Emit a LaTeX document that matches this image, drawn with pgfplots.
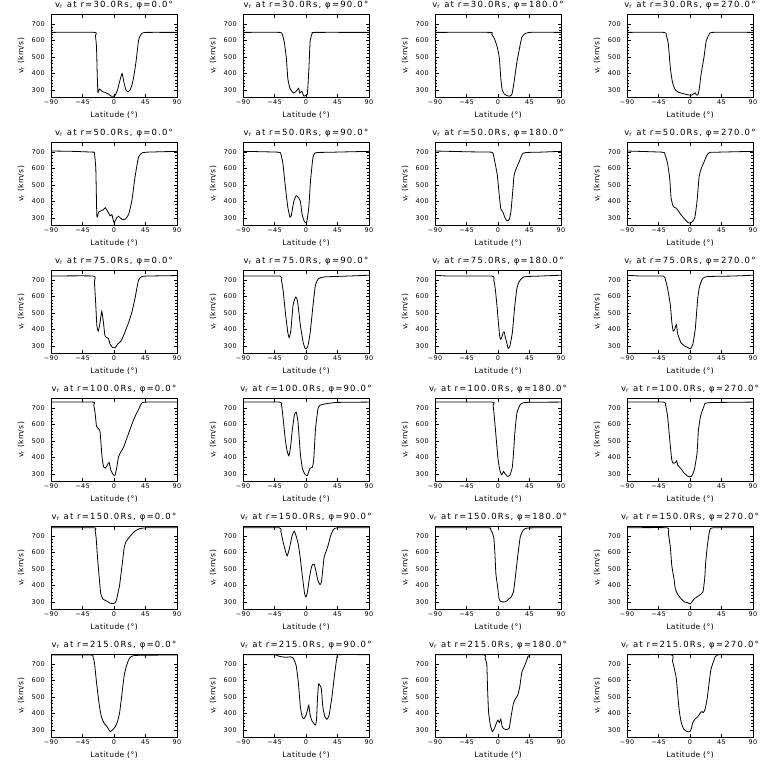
\documentclass[border=0pt]{standalone}
\usepackage{pgfplots}
\pgfplotsset{compat=1.18}
\usepackage{fontspec}
\setmainfont{DejaVu Sans}
\newfontfamily\ttlfont[LetterSpace=14]{DejaVu Sans}
\newfontfamily\lblfont[LetterSpace=6]{DejaVu Sans}
\newfontfamily\tckfont[LetterSpace=5]{DejaVu Sans}
\newcommand\ttl[2]{{\ttlfont\fontsize{8.5}{9}\selectfont v\textsubscript{r} at r=#1Rs, φ=#2°}}
\pgfplotsset{
  crv/.style={black, line width=0.8pt, smooth, tension=0.3, mark=none},
  panel/.style={
    anchor=north west, scale only axis, width=126pt, height=83pt,
    xmin=-90, xmax=90, ymin=255, ymax=760,
    xtick={-90,-45,0,45,90}, xticklabels={−90,−45,0,45,90},
    ytick={300,400,500,600,700}, yticklabels={300,400,500,600,700},
    minor y tick num=4, minor x tick num=0,
    major tick length=3.5pt, minor tick length=1.8pt,
    tick align=inside, tick pos=both,
    axis line style={line width=0.8pt}, every tick/.style={black, line width=0.6pt},
    tick label style={font=\tckfont\fontsize{6.5}{7}\selectfont},
    xticklabel style={anchor=north, inner sep=0pt, yshift=-2.5pt},
    yticklabel style={anchor=east, inner sep=0pt, xshift=-6pt},
    xlabel={Latitude (°)}, ylabel={v\textsubscript{r} (km/s)},
    label style={font=\lblfont\fontsize{7.5}{8}\selectfont},
    x label style={at={(axis description cs:0.5,-0.213)}, anchor=center},
    y label style={at={(axis description cs:-0.238,0.5)}, anchor=center},
    every axis title/.style={at={(axis description cs:0.5,1.108)}, anchor=center, inner sep=0pt},
  }
}
\begin{document}
\begin{tikzpicture}
\useasboundingbox (0,0) rectangle (768pt,-768pt);
% ---------- row 1: r=30
\begin{axis}[panel, at={(51pt,-14.3pt)}, title={\ttl{30.0}{0.0}}]
\addplot[crv] coordinates {(-90,650)(-28,650)(-26.5,630)(-25,560)(-24,400)(-23,285)(-21,305)(-19,300)(-17,290)(-13,285)(-8,275)(-4,262)(0,262)(2,270)(5,300)(8,350)(11.5,400)(14,350)(17,300)(20,288)(23,300)(26,335)(29,400)(32,490)(35,600)(37,625)(40,645)(47,650)(90,650)};
\end{axis}
\begin{axis}[panel, at={(243pt,-14.3pt)}, title={\ttl{30.0}{90.0}}]
\addplot[crv] coordinates {(-90,650)(-38,650)(-34,640)(-31,590)(-28,490)(-26,370)(-23,310)(-18,282)(-14,292)(-10.5,310)(-9,282)(-6,292)(-3,262)(0,268)(2,275)(4,420)(6,600)(9,645)(13,650)(90,650)};
\end{axis}
\begin{axis}[panel, at={(435pt,-14.3pt)}, title={\ttl{30.0}{180.0}}]
\addplot[crv] coordinates {(-90,650)(-12,650)(-9,640)(-5,610)(-1,560)(2,490)(4,370)(6,300)(9,275)(13,265)(17,262)(20,275)(23,350)(27,470)(31,560)(34,620)(38,640)(45,650)(90,650)};
\end{axis}
\begin{axis}[panel, at={(627pt,-14.3pt)}, title={\ttl{30.0}{270.0}}]
\addplot[crv] coordinates {(-90,650)(-37,650)(-34,635)(-31,580)(-28,430)(-25,345)(-21,300)(-16,285)(-10,278)(-3,270)(2,268)(5,275)(7.5,282)(9,270)(11,268)(13,300)(16,400)(20,500)(23,595)(27,635)(32,650)(90,650)};
\end{axis}
% ---------- row 2: r=50
\begin{axis}[panel, at={(51pt,-142.3pt)}, title={\ttl{50.0}{0.0}}]
\addplot[crv] coordinates {(-90,707)(-60,705)(-30,700)(-28,695)(-26,600)(-24.5,312)(-22,335)(-20,340)(-15,350)(-12.5,362)(-9,340)(-5.5,312)(-3,320)(0,272)(4,302)(6.5,310)(11,292)(16,292)(21,322)(25.5,405)(30,548)(35,670)(40,695)(47,700)(90,705)};
\end{axis}
\begin{axis}[panel, at={(243pt,-142.3pt)}, title={\ttl{50.0}{90.0}}]
\addplot[crv] coordinates {(-90,705)(-40,700)(-36,690)(-33,630)(-29.5,490)(-26,365)(-23,305)(-21,315)(-17.5,400)(-14,435)(-11,425)(-8,400)(-5.5,320)(-2,275)(1,275)(4,365)(6.5,530)(10,670)(13,695)(16,698)(40,700)(90,705)};
\end{axis}
\begin{axis}[panel, at={(435pt,-142.3pt)}, title={\ttl{50.0}{180.0}}]
\addplot[crv] coordinates {(-90,707)(-40,702)(-10,700)(-7,690)(-4,630)(-1,560)(2,430)(4,355)(7,335)(10,300)(13,282)(16,290)(18.5,340)(21,460)(23,560)(26,600)(30,640)(35,690)(40,698)(60,700)(90,705)};
\end{axis}
\begin{axis}[panel, at={(627pt,-142.3pt)}, title={\ttl{50.0}{270.0}}]
\addplot[crv] coordinates {(-90,707)(-40,700)(-36,690)(-32,630)(-29,540)(-27,420)(-24,370)(-20,360)(-17,345)(-13,320)(-8,295)(-3,272)(0,268)(4,280)(7,305)(10,400)(13,550)(16,600)(20,640)(24,680)(28,698)(40,700)(90,705)};
\end{axis}
% ---------- row 3: r=75
\begin{axis}[panel, at={(51pt,-270.3pt)}, title={\ttl{75.0}{0.0}}]
\addplot[crv] coordinates {(-90,725)(-29.5,725)(-28,690)(-26,546)(-24.5,423)(-22.5,390)(-20,440)(-17.5,510)(-15,440)(-13,362)(-10,350)(-8,345)(-5.5,310)(-2,290)(1.5,288)(5,310)(10,330)(14.5,372)(21,444)(25.5,505)(30,590)(35,700)(40,722)(47,725)(90,728)};
\end{axis}
\begin{axis}[panel, at={(243pt,-270.3pt)}, title={\ttl{75.0}{90.0}}]
\addplot[crv] coordinates {(-90,725)(-37,725)(-35,700)(-32.5,630)(-29.5,505)(-26,382)(-24,350)(-21.5,400)(-18.5,546)(-15,597)(-12.5,580)(-10,500)(-8,423)(-4,320)(-1,283)(2.5,295)(6,382)(10,546)(13.5,670)(18,710)(27,720)(60,725)(90,730)};
\end{axis}
\begin{axis}[panel, at={(435pt,-270.3pt)}, title={\ttl{75.0}{180.0}}]
\addplot[crv] coordinates {(-90,730)(-70,725)(-9,725)(-6,700)(-4,650)(-1.5,546)(0.5,444)(2.5,355)(4,340)(6,360)(7.5,385)(9,385)(10.5,350)(12.5,320)(14.5,285)(17,300)(20.5,382)(24,546)(27,650)(30,690)(37,720)(60,725)(90,730)};
\end{axis}
\begin{axis}[panel, at={(627pt,-270.3pt)}, title={\ttl{75.0}{270.0}}]
\addplot[crv] coordinates {(-90,730)(-70,725)(-38,725)(-35,700)(-32,650)(-28,546)(-26,444)(-24,390)(-22,400)(-19.5,430)(-17.5,372)(-13,320)(-8,300)(-3,290)(0.5,282)(4,310)(7.5,403)(11,587)(13.5,660)(18,710)(25,722)(60,725)(90,730)};
\end{axis}
% ---------- row 4: r=100
\begin{axis}[panel, at={(51pt,-398.3pt)}, title={\ttl{100.0}{0.0}}]
\addplot[crv] coordinates {(-90,737)(-30.5,737)(-29,720)(-27,670)(-25,590)(-22,575)(-20,560)(-18.5,480)(-17,400)(-15,345)(-12.5,335)(-10,350)(-7,370)(-4.5,322)(-1,295)(1.5,292)(4,340)(6.5,405)(10,435)(14,466)(21,548)(28,630)(35,692)(40,733)(47,737)(90,737)};
\end{axis}
\begin{axis}[panel, at={(243pt,-398.3pt)}, title={\ttl{100.0}{90.0}}]
\addplot[crv] coordinates {(-90,737)(-38,737)(-35,720)(-32.5,630)(-29.5,507)(-27,440)(-24.5,410)(-22,466)(-19.5,570)(-16.5,660)(-14,675)(-11.5,620)(-8,420)(-5,330)(-1,295)(2,290)(4,315)(6,335)(9,340)(11,385)(13.5,570)(17,695)(20,718)(30,728)(45,735)(90,737)};
\end{axis}
\begin{axis}[panel, at={(435pt,-398.3pt)}, title={\ttl{100.0}{180.0}}]
\addplot[crv] coordinates {(-90,737)(-9,737)(-7,720)(-4.5,610)(-2,487)(0,390)(2.5,325)(5,295)(6.5,305)(8,315)(10,302)(13.5,285)(17,292)(20.5,343)(22.5,450)(24,548)(27,671)(32,723)(40,735)(90,737)};
\end{axis}
\begin{axis}[panel, at={(627pt,-398.3pt)}, title={\ttl{100.0}{270.0}}]
\addplot[crv] coordinates {(-90,737)(-38,737)(-35,720)(-32,650)(-28.5,487)(-26,384)(-24,365)(-21,368)(-19,380)(-17.5,353)(-13.5,335)(-9,308)(-3,285)(2,285)(6,322)(10,425)(12,565)(15,650)(20,712)(25,733)(90,737)};
\end{axis}
% ---------- row 5: r=150
\begin{axis}[panel, at={(51pt,-526.3pt)}, title={\ttl{150.0}{0.0}}]
\addplot[crv] coordinates {(-90,751)(-28.5,751)(-27,735)(-25.5,690)(-23.5,567)(-21,444)(-19,351)(-16,318)(-13,310)(-10,304)(-5.5,292)(0,290)(3,305)(5,340)(8,403)(11,505)(14.5,628)(17,665)(23,700)(30,731)(37,746)(47,751)(90,751)};
\end{axis}
\begin{axis}[panel, at={(243pt,-526.3pt)}, title={\ttl{150.0}{90.0}}]
\addplot[crv] coordinates {(-90,751)(-38,751)(-36,730)(-33,670)(-30,620)(-27,580)(-24,620)(-20,700)(-17,730)(-14,700)(-11,650)(-8,560)(-5,450)(-2,350)(0,330)(2,360)(5,450)(8,515)(10,530)(12,528)(14,490)(17,430)(20,405)(22,420)(24,500)(26,575)(29,610)(32,650)(35,700)(39,740)(45,751)(90,751)};
\end{axis}
\begin{axis}[panel, at={(435pt,-526.3pt)}, title={\ttl{150.0}{180.0}}]
\addplot[crv] coordinates {(-90,751)(-14,751)(-11,745)(-8,720)(-6,690)(-4.5,600)(-3,470)(-0.5,390)(1.5,320)(4,302)(9,300)(12.5,305)(15,318)(18,325)(22,360)(25,460)(29,608)(32,700)(36,735)(42,750)(90,751)};
\end{axis}
\begin{axis}[panel, at={(627pt,-526.3pt)}, title={\ttl{150.0}{270.0}}]
\addplot[crv] coordinates {(-90,751)(-33,751)(-31,720)(-28,628)(-26,520)(-23,444)(-21,380)(-17.5,345)(-13,320)(-8,300)(-3,295)(0.5,288)(6,318)(13.5,341)(18.5,362)(21,444)(22.5,546)(25,650)(28,731)(33,751)(90,751)};
\end{axis}
% ---------- row 6: r=215
\begin{axis}[panel, at={(51pt,-654.3pt)}, title={\ttl{215.0}{0.0}}]
\addplot[crv] coordinates {(-90,756)(-33,756)(-30,740)(-28,712)(-25,590)(-21,450)(-18,380)(-14,340)(-10,320)(-8,306)(-5.5,290)(-2,300)(2,322)(5,350)(8,405)(11,507)(14.5,630)(18,692)(22,735)(30,753)(90,756)};
\end{axis}
\begin{axis}[panel, at={(243pt,-654.3pt)}, title={\ttl{215.0}{90.0}}]
\addplot[crv] coordinates {(-90,757)(-45,757)(-40,750)(-35,745)(-28,742)(-22,745)(-19,740)(-17,725)(-14,690)(-11,590)(-8,440)(-5.5,380)(-3,368)(0,390)(2,420)(4,450)(5.5,400)(8,360)(11,340)(13.5,330)(15,360)(16.5,500)(18,580)(20,570)(22,550)(24,440)(27,380)(30,365)(33,390)(37,500)(41,645)(44.5,750)(47,758)(90,758)};
\end{axis}
\begin{axis}[panel, at={(435pt,-654.3pt)}, title={\ttl{215.0}{180.0}}]
\addplot[crv] coordinates {(-90,757)(-21,757)(-18.5,735)(-16,700)(-15,560)(-13.5,410)(-11,330)(-8,290)(-5,310)(-2,345)(0,360)(2,345)(4,365)(6,320)(9,305)(13,302)(16,310)(19,390)(22,460)(25,490)(28,510)(31,560)(34,650)(38,690)(42,735)(46,757)(90,757)};
\end{axis}
\begin{axis}[panel, at={(627pt,-654.3pt)}, title={\ttl{215.0}{270.0}}]
\addplot[crv] coordinates {(-90,757)(-27,757)(-25,720)(-22,665)(-19.5,610)(-17,487)(-15,405)(-12.5,345)(-9,305)(-4,290)(0,290)(2,310)(4,345)(7,365)(11,380)(15,405)(17,412)(19,405)(21.5,425)(24.5,490)(28,610)(30,670)(35,733)(40,757)(90,757)};
\end{axis}
\end{tikzpicture}
\end{document}
